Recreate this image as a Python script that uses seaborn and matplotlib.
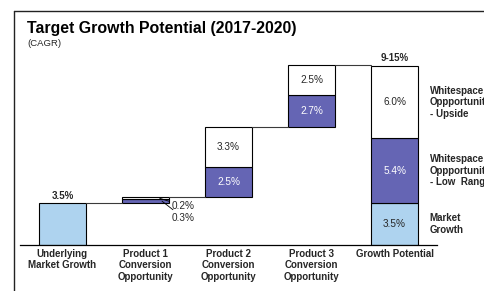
import matplotlib
matplotlib.use("Agg")
import matplotlib.pyplot as plt
import seaborn as sns
from matplotlib.lines import Line2D

# ==========================================================
# DATA
# ==========================================================

categories = [
    "Underlying\nMarket Growth",
    "Product 1\nConversion\nOpportunity",
    "Product 2\nConversion\nOpportunity",
    "Product 3\nConversion\nOpportunity",
    "Growth Potential",
]
market = [3.5, 0, 0, 0, 3.5]
low_range = [0, 0.3, 2.5, 2.7, 5.4]
upside = [0, 0.2, 3.3, 2.5, 6.0]
legend_labels = [
    "Market\nGrowth",
    "Whitespace\nOppportunity\n- Low  Range",
    "Whitespace\nOppportunity\n- Upside",
]
total_label = "9-15%"

DARK = "#6565B4"
LIGHT = "#AED3EF"
TXT = "#262626"

# ==========================================================
# STYLE
# ==========================================================

sns.set_theme(style="white")
plt.rcParams["font.family"] = ["Liberation Sans", "DejaVu Sans"]

fig = plt.figure(figsize=(4.85, 2.91), dpi=100)
ax = fig.add_axes([20 / 485, 46 / 291, 417 / 485, 192 / 291])

# base of each bar: first and last start at 0, steps float on the running total
bases = []
running = 0.0
for i in range(len(categories)):
    if i == 0 or i == len(categories) - 1:
        bases.append(0.0)
    else:
        bases.append(running)
    running = bases[i] + market[i] + low_range[i] + upside[i]

bar_w = 0.566
layers = [(market, LIGHT), (low_range, DARK), (upside, "white")]

tops = []
for i, cat in enumerate(categories):
    b = bases[i]
    for vals, col in layers:
        h = vals[i]
        if h <= 0:
            continue
        sns.barplot(
            x=[cat], y=[h], order=categories, bottom=b,
            color=col, saturation=1, edgecolor="black", linewidth=0.8,
            width=bar_w, errorbar=None, ax=ax,
        )
        b += h
    tops.append(b)

# connector lines
for i in range(len(categories) - 1):
    ax.plot([i + bar_w / 2, i + 1 - bar_w / 2], [tops[i], tops[i]],
            color="#3a3a3a", lw=0.8, zorder=1)

# value labels inside segments (products 2, 3 and total)
for i in [2, 3, 4]:
    b = bases[i]
    for vals, col in layers:
        h = vals[i]
        if h <= 0:
            continue
        tc = "white" if col == DARK else TXT
        ax.text(i, b + h / 2, f"{h:.1f}%", ha="center", va="center",
                fontsize=7.2, color=tc)
        b += h

# first bar label and total label
ax.text(0, tops[0] + 0.15, f"{market[0]:.1f}%", ha="center", va="bottom",
        fontsize=7, fontweight="bold", color=TXT)
ax.text(4, tops[4] + 0.3, total_label, ha="center", va="bottom",
        fontsize=7, fontweight="bold", color=TXT)

# product 1 small labels with leader lines
ax.annotate(f"{upside[1]:.1f}%", xy=(1.17, bases[1] + low_range[1] + upside[1] / 2),
            xytext=(1.32, 3.25), fontsize=7.2, color=TXT, va="center",
            arrowprops=dict(arrowstyle="-", color="black", lw=0.6,
                            shrinkA=0, shrinkB=0))
ax.annotate(f"{low_range[1]:.1f}%", xy=(1.2, bases[1] + low_range[1] / 2),
            xytext=(1.32, 2.25), fontsize=7.2, color=TXT, va="center",
            arrowprops=dict(arrowstyle="-", color="black", lw=0.6,
                            shrinkA=0, shrinkB=0))

# right side labels at segment centres of the total bar
b = 0.0
for (vals, col), lab in zip(layers, legend_labels):
    h = vals[4]
    ax.text(4.42, b + h / 2, lab, ha="left", va="center", fontsize=7,
            fontweight="bold", color=TXT, linespacing=1.2, clip_on=False)
    b += h

# ==========================================================
# AXES
# ==========================================================

ax.set_xlim(-0.51, 4.51)
ax.set_ylim(0, 16)
ax.set_xlabel("")
ax.set_ylabel("")
ax.set_yticks([])
ax.set_xticks(range(len(categories)))
ax.set_xticklabels(categories, fontsize=7, fontweight="bold", color=TXT,
                   linespacing=1.15)
ax.tick_params(axis="x", length=0, pad=3)
for s in ["top", "right", "left"]:
    ax.spines[s].set_visible(False)
ax.spines["bottom"].set_color("black")
ax.spines["bottom"].set_linewidth(0.9)

# ==========================================================
# TITLE + FRAME
# ==========================================================

fig.text(27 / 485, 1 - 28 / 291, "Target Growth Potential (2017-2020)",
         fontsize=11.4, fontweight="bold", va="center", ha="left", color="black")
fig.text(27 / 485, 1 - 43 / 291, "(CAGR)", fontsize=6.8, va="center",
         ha="left", color=TXT)

fig.add_artist(Line2D([14 / 485, 1.0], [1 - 11 / 291, 1 - 11 / 291],
                      transform=fig.transFigure, color="#222222", lw=1.0))
fig.add_artist(Line2D([14 / 485, 14 / 485], [0, 1 - 11 / 291],
                      transform=fig.transFigure, color="#222222", lw=1.0))

fig.savefig("out.png", dpi=100)
